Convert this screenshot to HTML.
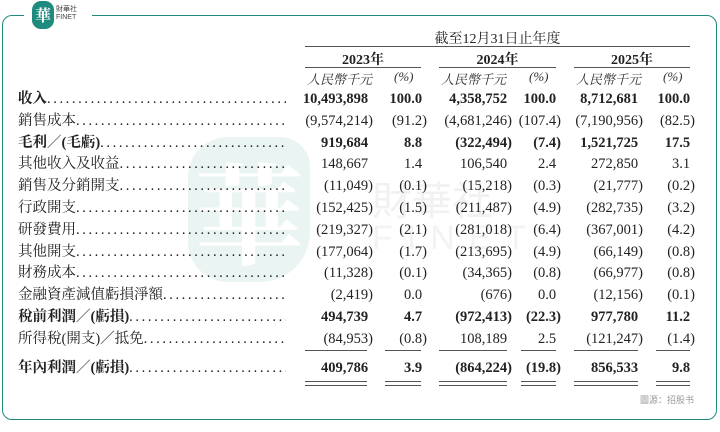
<!DOCTYPE html>
<html><head><meta charset="utf-8">
<style>
body{margin:0;width:720px;height:432px;background:#fff;position:relative;overflow:hidden;font-family:"Liberation Serif","Noto Serif CJK SC",serif;color:#222}
.abs{position:absolute}
.frame{left:2px;top:15px;width:713px;height:403px;border:1.5px solid #1f8a7e;border-radius:10px}
.lab{position:absolute;left:18px;font-size:14.5px;white-space:nowrap;width:268px;overflow:hidden;line-height:18px}
.lab.b{font-weight:bold}
.dots{letter-spacing:2.6px}
.num{position:absolute;font-size:14.5px;text-align:right;white-space:nowrap;line-height:18px}
.b{font-weight:bold}
.h{visibility:hidden}
.ln{position:absolute;height:1px;background:#555}
.hd{position:absolute;font-size:13px;text-align:center;white-space:nowrap}
.unit{position:absolute;font-size:13px;font-style:italic;white-space:nowrap;color:#333}
</style></head><body>
<div class="abs frame"></div>
<div class="abs" style="left:24px;top:0;width:68px;height:30px;background:#fff"></div>
<div class="abs" style="left:32px;top:1px;width:22px;height:28px;background:#1f8a7e;border-radius:9px;color:#fff;font:bold 16px 'Noto Serif CJK SC',serif;text-align:center;line-height:28px">華</div>
<div class="abs" style="left:56px;top:6px;font:7px 'Liberation Sans','Noto Sans CJK SC',sans-serif;line-height:8px;color:#444">財華社<br>FINET</div>
<div class="abs" style="left:188px;top:137px;width:122px;height:145px;background:#eaf4f2;border-radius:40px 30px 50px 40px;color:#fff;font:bold 110px 'Noto Serif CJK SC',serif;text-align:center;line-height:145px">華</div>
<div class="abs" style="left:372px;top:176px;font:40px 'Noto Sans CJK SC',sans-serif;color:#f1f1f1;line-height:44px">財華社</div>
<div class="abs" style="left:372px;top:220px;font:34px 'Liberation Sans',sans-serif;color:#f3f3f3;letter-spacing:14px;line-height:36px">FINET</div>

<div class="hd" style="left:305px;width:385px;top:28px;font-size:14px">截至12月31日止年度</div>
<div class="ln" style="left:305px;width:385px;top:46px"></div>
<div class="hd" style="left:305px;width:116px;top:49px;font-weight:bold;font-size:14px">2023年</div>
<div class="hd" style="left:439px;width:117px;top:49px;font-weight:bold;font-size:14px">2024年</div>
<div class="hd" style="left:574px;width:116px;top:49px;font-weight:bold;font-size:14px">2025年</div>
<div class="ln" style="left:305px;width:116px;top:67px"></div>
<div class="ln" style="left:439px;width:117px;top:67px"></div>
<div class="ln" style="left:574px;width:116px;top:67px"></div>
<div class="unit" style="left:307px;top:69px">人民幣千元</div>
<div class="unit" style="left:394px;top:69px">(%)</div>
<div class="unit" style="left:441px;top:69px">人民幣千元</div>
<div class="unit" style="left:529px;top:69px">(%)</div>
<div class="unit" style="left:576px;top:69px">人民幣千元</div>
<div class="unit" style="left:663px;top:69px">(%)</div>

<div id="rows"></div>
<div class="abs" style="left:640px;top:393px;font:9px 'Noto Sans CJK SC',sans-serif;color:#999">圖源：招股书</div>

<script>
const labels=["收入","銷售成本","毛利／(毛虧)","其他收入及收益","銷售及分銷開支","行政開支","研發費用","其他開支","財務成本","金融資產減值虧損淨額","稅前利潤／(虧損)","所得稅(開支)／抵免","年內利潤／(虧損)"];
const bold=[1,0,1,0,0,0,0,0,0,0,1,0,1];
const v2023=["10,493,898","(9,574,214)","919,684","148,667","(11,049)","(152,425)","(219,327)","(177,064)","(11,328)","(2,419)","494,739","(84,953)","409,786"];
const p2023=["100.0","(91.2)","8.8","1.4","(0.1)","(1.5)","(2.1)","(1.7)","(0.1)","0.0","4.7","(0.8)","3.9"];
const v2024=["4,358,752","(4,681,246)","(322,494)","106,540","(15,218)","(211,487)","(281,018)","(213,695)","(34,365)","(676)","(972,413)","108,189","(864,224)"];
const p2024=["100.0","(107.4)","(7.4)","2.4","(0.3)","(4.9)","(6.4)","(4.9)","(0.8)","0.0","(22.3)","2.5","(19.8)"];
const v2025=["8,712,681","(7,190,956)","1,521,725","272,850","(21,777)","(282,735)","(367,001)","(66,149)","(66,977)","(12,156)","977,780","(121,247)","856,533"];
const p2025=["100.0","(82.5)","17.5","3.1","(0.2)","(3.2)","(4.2)","(0.8)","(0.8)","(0.1)","11.2","(1.4)","9.8"];
const cols=[[v2023,373,'amount-2023'],[p2023,427,'pct-2023'],[v2024,512,'amount-2024'],[p2024,561,'pct-2024'],[v2025,643,'amount-2025'],[p2025,695,'pct-2025']];
const segs=[[305,367],[385,421],[439,507],[521,556],[574,638],[656,690]];
const root=document.getElementById('rows');
function rowY(i){return i<12?90+i*21.8:359;}
labels.forEach((l,i)=>{
  const y=rowY(i);
  const d=document.createElement('div');
  d.className='lab'+(bold[i]?' b':'');
  d.style.top=y+'px';
  d.innerHTML=l+'<span class="dots" style="font-weight:normal">'+'.'.repeat(60)+'</span>';
  
  
  root.appendChild(d);
  cols.forEach(c=>{
    const v=c[0][i];
    const n=document.createElement('div');
    n.className='num'+(bold[i]?' b':'');
    n.style.top=y+'px';
    n.style.right=(720-c[1])+'px';
    n.innerHTML=v.endsWith(')')?v:v+'<span class="h">)</span>';
    
    
    root.appendChild(n);
  });
});
function line(x1,x2,y,name){
  const l=document.createElement('div');
  l.className='ln';
  l.style.left=x1+'px';l.style.width=(x2-x1)+'px';l.style.top=y+'px';
  
  
  root.appendChild(l);
}
segs.forEach(s=>{line(s[0],s[1],350,'subtotal-rule');line(s[0],s[1],381,'total-double-rule');line(s[0],s[1],385,'total-double-rule');});
</script>
</body></html>
